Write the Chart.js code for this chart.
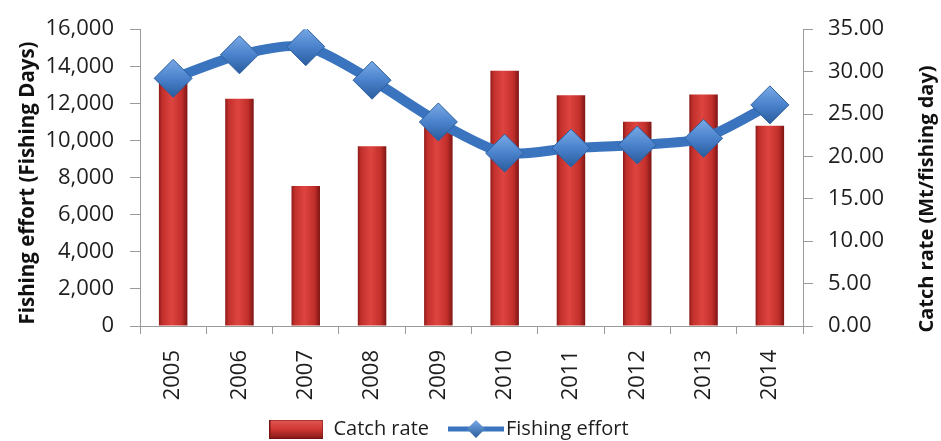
<!DOCTYPE html>
<html>
<head>
<meta charset="utf-8">
<script src="https://cdn.jsdelivr.net/npm/chart.js@4"></script>
<style>
  html, body { margin: 0; padding: 0; background: #fff; }
  #wrap { width: 941px; height: 441px; }
</style>
</head>
<body>
<div id="wrap"><canvas id="myChart" width="941" height="441"></canvas></div>
<script>
var years = ['2005', '2006', '2007', '2008', '2009', '2010', '2011', '2012', '2013', '2014'];
var catchRate = [29.2, 26.8, 16.5, 21.2, 23.5, 30.1, 27.2, 24.1, 27.3, 23.6];
var fishingEffort = [13350, 14620, 15060, 13250, 11000, 9320, 9590, 9760, 10120, 11920];
var effortTicks = [0, 2000, 4000, 6000, 8000, 10000, 12000, 14000, 16000];
var rateTicks = [0, 5, 10, 15, 20, 25, 30, 35];

var FONT = '"Open Sans", "Noto Sans", sans-serif';
var AXIS_GREY = '#9a9a9a';
var TEXT = '#1e1e1e';

function barFill(context) {
  var chart = context.chart;
  if (!chart.chartArea) return '#c0302c';
  var x = chart.scales.x.getPixelForValue(context.dataIndex);
  var w = (chart.scales.x.width / years.length) * 0.43;
  var g = chart.ctx.createLinearGradient(x - w / 2, 0, x + w / 2, 0);
  g.addColorStop(0, '#8e1c1a');
  g.addColorStop(0.12, '#c2302c');
  g.addColorStop(0.45, '#de4440');
  g.addColorStop(0.8, '#c22f2b');
  g.addColorStop(1, '#7e1614');
  return g;
}

function diamondFill(context) {
  var chart = context.chart;
  if (!chart.chartArea || context.dataIndex === undefined) return '#3f78c4';
  var y = chart.scales.y.getPixelForValue(fishingEffort[context.dataIndex]);
  var g = chart.ctx.createLinearGradient(0, y - 19, 0, y + 19);
  g.addColorStop(0, '#7aaae6');
  g.addColorStop(0.5, '#4a82cc');
  g.addColorStop(1, '#2a5c9e');
  return g;
}

// legend symbols drawn on small canvases
function makeBarSwatch() {
  var c = document.createElement('canvas');
  c.width = 54; c.height = 19;
  var cx = c.getContext('2d');
  var g = cx.createLinearGradient(0, 0, 0, 19);
  g.addColorStop(0, '#e25a55');
  g.addColorStop(0.5, '#cf3834');
  g.addColorStop(1, '#8a1b19');
  cx.fillStyle = g;
  cx.fillRect(0, 0, 54, 19);
  cx.strokeStyle = '#7a1513';
  cx.lineWidth = 1;
  cx.strokeRect(0.5, 0.5, 53, 18);
  return c;
}

function makeLineSwatch() {
  // wider than the legend box so the line reaches left of it
  var c = document.createElement('canvas');
  c.width = 70; c.height = 20;
  var cx = c.getContext('2d');
  cx.strokeStyle = '#3b74be';
  cx.lineWidth = 5;
  cx.beginPath();
  cx.moveTo(14, 10);
  cx.lineTo(70, 10);
  cx.stroke();
  var g = cx.createLinearGradient(0, 1, 0, 19);
  g.addColorStop(0, '#7aaae6');
  g.addColorStop(1, '#2a5c9e');
  cx.fillStyle = g;
  cx.beginPath();
  cx.moveTo(42, 1);
  cx.lineTo(51, 10);
  cx.lineTo(42, 19);
  cx.lineTo(33, 10);
  cx.closePath();
  cx.fill();
  return c;
}

var barSwatch = makeBarSwatch();
var lineSwatch = makeLineSwatch();

// both axis titles, reading bottom to top
var axisTitles = {
  id: 'axisTitles',
  afterLayout: function(chart) {
    // nudge the legend row a little to the left
    chart.legend.left -= 15;
    chart.legend.right -= 15;
  },
  afterDraw: function(chart) {
    var ctx = chart.ctx;
    ctx.save();
    ctx.font = 'bold 20.5px ' + FONT;
    ctx.fillStyle = '#111';
    ctx.textAlign = 'center';
    ctx.textBaseline = 'middle';
    ctx.translate(28, 183);
    ctx.rotate(-Math.PI / 2);
    ctx.fillText('Fishing effort (Fishing Days)', 0, 0);
    ctx.restore();
    ctx.save();
    ctx.font = 'bold 20px ' + FONT;
    ctx.fillStyle = '#111';
    ctx.textAlign = 'center';
    ctx.textBaseline = 'middle';
    ctx.translate(927, 199);
    ctx.rotate(-Math.PI / 2);
    ctx.fillText('Catch rate (Mt/fishing day)', 0, 0);
    ctx.restore();
  }
};

var ctx = document.getElementById('myChart').getContext('2d');
var myChart = new Chart(ctx, {
  type: 'bar',
  data: {
    labels: years,
    datasets: [{
      type: 'line',
      label: 'Fishing effort',
      data: fishingEffort,
      yAxisID: 'y',
      order: 0,
      borderColor: '#3b74be',
      borderWidth: 10,
      tension: 0.25,
      pointStyle: 'rectRot',
      pointRadius: 19,
      pointHoverRadius: 19,
      pointBackgroundColor: diamondFill,
      pointBorderColor: '#2d5f9f',
      pointBorderWidth: 1
    }, {
      type: 'bar',
      label: 'Catch rate',
      data: catchRate,
      yAxisID: 'y1',
      order: 1,
      backgroundColor: barFill,
      borderWidth: 0,
      categoryPercentage: 1,
      barPercentage: 0.43
    }]
  },
  options: {
    responsive: false,
    animation: false,
    layout: { padding: { top: 9, right: 57, left: 44, bottom: -8 } },
    plugins: {
      tooltip: { enabled: false },
      legend: {
        position: 'bottom',
        labels: {
          usePointStyle: true,
          pointStyleWidth: 54,
          boxHeight: 20,
          padding: 13,
          color: TEXT,
          font: { family: FONT, size: 20 },
          generateLabels: function() {
            return [
              { text: 'Catch rate', pointStyle: barSwatch, fillStyle: 'transparent', strokeStyle: 'transparent', lineWidth: 0, hidden: false, datasetIndex: 1, fontColor: TEXT },
              { text: 'Fishing effort', pointStyle: lineSwatch, fillStyle: 'transparent', strokeStyle: 'transparent', lineWidth: 0, hidden: false, datasetIndex: 0, fontColor: TEXT }
            ];
          }
        }
      }
    },
    scales: {
      x: {
        offset: true,
        afterFit: function(scale) { scale.height = 80; },
        grid: { offset: true, drawOnChartArea: false, drawTicks: true, tickLength: 8, color: AXIS_GREY },
        border: { display: true, color: AXIS_GREY },
        ticks: {
          color: TEXT,
          font: { family: FONT, size: 22 },
          minRotation: 90,
          maxRotation: 90,
          padding: 16
        }
      },
      y: {
        position: 'left',
        min: 0,
        max: 16000,
        afterBuildTicks: function(axis) {
          axis.ticks = effortTicks.map(function(v) { return { value: v }; });
        },
        afterFit: function(scale) { scale.width = 96; },
        grid: { drawOnChartArea: false, drawTicks: true, tickLength: 10, color: AXIS_GREY },
        border: { display: true, color: AXIS_GREY },
        ticks: {
          color: TEXT,
          font: { family: FONT, size: 22 },
          padding: 16,
          callback: function(v) { return v.toLocaleString('en-US'); }
        }
      },
      y1: {
        position: 'right',
        min: 0,
        max: 35,
        afterBuildTicks: function(axis) {
          axis.ticks = rateTicks.map(function(v) { return { value: v }; });
        },
        afterFit: function(scale) { scale.width = 81; },
        grid: { drawOnChartArea: false, drawTicks: true, tickLength: 10, color: AXIS_GREY },
        border: { display: true, color: AXIS_GREY },
        ticks: {
          color: TEXT,
          font: { family: FONT, size: 22 },
          padding: 15,
          callback: function(v) { return v.toFixed(2); }
        }
      }
    }
  },
  plugins: [axisTitles]
});
</script>
</body>
</html>
